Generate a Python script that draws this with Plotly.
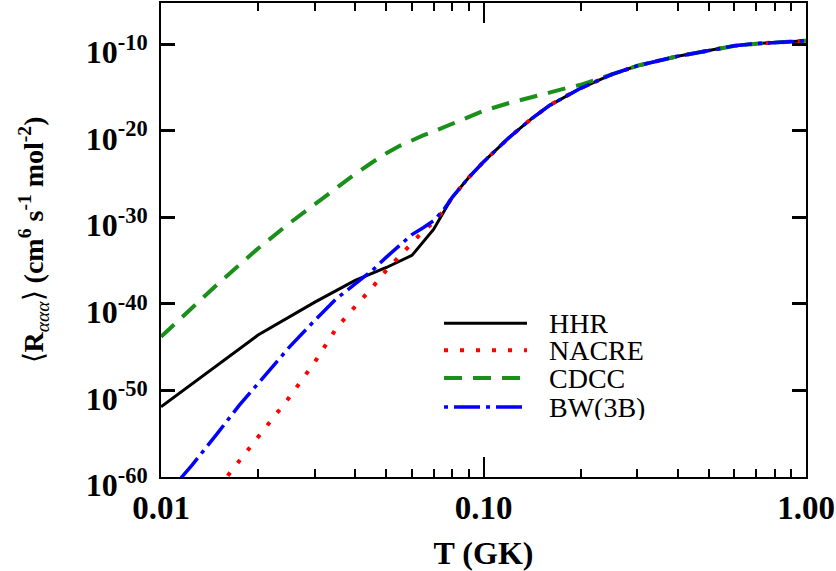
import plotly.graph_objects as go
import numpy as np

# ---- data (rates given as log10 values) ----
hhr_T = [0.01, 0.02, 0.03, 0.04, 0.05, 0.06, 0.07, 0.08, 0.09, 0.10, 0.12, 0.14, 0.16, 0.18,
         0.20, 0.25, 0.30, 0.40, 0.50, 0.60, 0.70, 0.80, 0.90, 1.00]
hhr_log = [-51.9, -43.6, -39.8, -37.3, -35.8, -34.4, -31.4, -27.7, -25.4, -23.6, -20.8, -18.7,
           -17.1, -16.0, -15.1, -13.5, -12.5, -11.4, -10.7, -10.2, -9.95, -9.8, -9.7, -9.6]

nacre_T = [0.015, 0.02, 0.025, 0.03, 0.035, 0.04, 0.045, 0.05, 0.055, 0.06, 0.065, 0.07, 0.075,
           0.08, 0.09, 0.10, 0.12, 0.14, 0.16, 0.18, 0.20, 0.25, 0.30, 0.40, 0.50, 0.60, 0.70,
           0.80, 0.90, 1.00]
nacre_log = [-61.3, -55.3, -50.8, -46.7, -42.8, -40.3, -38.2, -36.1, -34.5, -33.0, -31.6, -30.6,
             -29.3, -27.7, -25.4, -23.6, -20.8, -18.7, -17.1, -16.0, -15.1, -13.5, -12.5, -11.4,
             -10.7, -10.2, -9.95, -9.8, -9.7, -9.6]

cdcc_T = [0.01, 0.0125, 0.015, 0.0175, 0.02, 0.025, 0.03, 0.035, 0.04, 0.045, 0.05, 0.055,
          0.06, 0.065, 0.07, 0.08, 0.09, 0.10, 0.12, 0.14, 0.16, 0.18, 0.20, 0.22, 0.25, 0.30,
          0.40, 0.50, 0.60, 0.70, 0.80, 0.90, 1.00]
cdcc_log = [-43.8, -40.4, -37.7, -35.5, -33.6, -30.7, -28.45, -26.6, -25.0, -23.7, -22.6, -21.75,
            -21.1, -20.55, -20.1, -19.2, -18.4, -17.7, -16.8, -16.1, -15.6, -15.1, -14.7, -14.2,
            -13.5, -12.5, -11.4, -10.7, -10.2, -9.95, -9.8, -9.7, -9.6]

bw_T = [0.011, 0.0125, 0.015, 0.0175, 0.02, 0.025, 0.03, 0.035, 0.04, 0.045, 0.05, 0.055, 0.06,
        0.065, 0.07, 0.075, 0.08, 0.09, 0.10, 0.12, 0.14, 0.16, 0.18, 0.20, 0.25, 0.30, 0.40,
        0.50, 0.60, 0.70, 0.80, 0.90, 1.00]
bw_log = [-61.0, -58.6, -54.9, -51.7, -49.2, -45.0, -41.9, -39.4, -37.7, -36.2, -34.6, -33.2,
          -32.0, -31.2, -30.4, -29.2, -27.7, -25.4, -23.6, -20.8, -18.7, -17.1, -16.0, -15.1,
          -13.5, -12.5, -11.4, -10.7, -10.2, -9.95, -9.8, -9.7, -9.6]

x_tickvals = [0.01, 0.1, 1.0]
x_ticktext = ["0.01", "0.10", "1.00"]
x_minor = [0.02, 0.03, 0.04, 0.05, 0.06, 0.07, 0.08, 0.09,
           0.2, 0.3, 0.4, 0.5, 0.6, 0.7, 0.8, 0.9]
y_exponents = [-60, -50, -40, -30, -20, -10]

series_names = ["HHR", "NACRE", "CDCC", "BW(3B)"]
series_colors = ["#000000", "#ff0000", "#1a8f1a", "#0000ff"]
series_dash = ["solid", "4px,12px", "18px,11px", "4px,6px,26px,6px"]
series_width = [3, 4, 4, 3.5]

SERIF = "Liberation Serif"

fig = go.Figure()
for name, T, lg, col, dash, w in zip(series_names,
                                     [hhr_T, nacre_T, cdcc_T, bw_T],
                                     [hhr_log, nacre_log, cdcc_log, bw_log],
                                     series_colors, series_dash, series_width):
    fig.add_trace(go.Scatter(x=T, y=np.power(10.0, lg), mode="lines", name=name,
                             line=dict(color=col, dash=dash, width=w),
                             showlegend=False))

# manual legend (long line samples as in the reference)
leg_y = [0.3245, 0.2676, 0.2086, 0.1475]
for name, col, dash, w, yy in zip(series_names, series_colors, series_dash, series_width, leg_y):
    fig.add_shape(type="line", xref="paper", yref="paper", x0=0.4388, x1=0.5674, y0=yy, y1=yy,
                  line=dict(color=col, dash=dash, width=w))
    fig.add_annotation(xref="paper", yref="paper", x=0.598, y=yy, text=name, showarrow=False,
                       xanchor="left", yanchor="middle", height=26,
                       font=dict(family=SERIF, size=28, color="black"))

fig.update_layout(
    width=836, height=571,
    margin=dict(l=161, r=30, t=3, b=94),
    paper_bgcolor="white", plot_bgcolor="white",
    font=dict(family=SERIF, color="black"),
)

fig.update_xaxes(
    type="log", range=[-2, 0], automargin=False,
    showline=True, linecolor="black", linewidth=2, mirror="ticks",
    showgrid=False, zeroline=False,
    tickmode="array", tickvals=x_tickvals, ticktext=x_ticktext,
    ticks="inside", ticklen=20, tickwidth=2, tickcolor="black",
    ticklabelstandoff=0,
    tickfont=dict(family=SERIF, size=33, weight="bold", color="black"),
    minor=dict(tickmode="array", tickvals=x_minor, ticks="inside", ticklen=8, tickwidth=2,
               tickcolor="black", showgrid=False),
    title=dict(text="T (GK)", font=dict(family=SERIF, size=32, weight="bold"), standoff=19),
)

fig.update_yaxes(
    type="log", range=[-60, -5.25], automargin=False,
    showline=True, linecolor="black", linewidth=2, mirror="ticks",
    showgrid=False, zeroline=False,
    tickmode="array", tickvals=[10.0 ** e for e in y_exponents],
    ticktext=["10<sup>%d</sup>" % e for e in y_exponents],
    ticks="inside", ticklen=14, tickwidth=3, tickcolor="black",
    ticklabelstandoff=5, ticklabelshift=8,
    tickfont=dict(family=SERIF, size=32, weight="bold", color="black"),
    title=dict(text="⟨<b>R</b><sub><i>ααα</i></sub>⟩ <b>(cm<sup>6</sup> s<sup>-1</sup> mol<sup>-2</sup>)</b>",
               font=dict(family=SERIF, size=28), standoff=34),
)

fig.write_html("out.html", config={"displayModeBar": False},
               post_script="document.body.style.margin='0';")
